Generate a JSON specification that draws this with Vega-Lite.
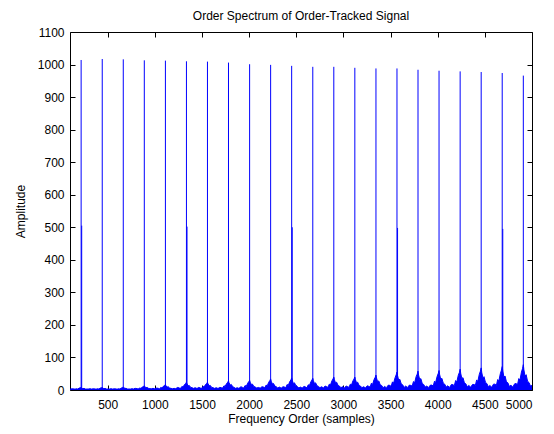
{
  "$schema": "https://vega.github.io/schema/vega-lite/v6.json",
  "width": 462,
  "height": 358,
  "autosize": {"type": "none"},
  "padding": {"left": 70, "top": 32, "right": 22, "bottom": 44},
  "background": "white",
  "title": {
    "text": "Order Spectrum of Order-Tracked Signal",
    "font": "Liberation Sans",
    "fontSize": 12,
    "fontWeight": "normal",
    "color": "#000000",
    "anchor": "middle",
    "offset": 3
  },
  "config": {
    "view": {"stroke": "#000000", "strokeWidth": 1},
    "axis": {
      "grid": false,
      "domain": false,
      "offset": -5,
      "tickColor": "#000000",
      "tickSize": 5,
      "labelFont": "Liberation Sans",
      "labelFontSize": 12,
      "labelColor": "#000000",
      "titleFont": "Liberation Sans",
      "titleFontSize": 12,
      "titleFontWeight": "normal",
      "titleColor": "#000000"
    }
  },
  "datasets": {
    "floor": [
      {"order": 100, "amp": 3},
      {"order": 108, "amp": 3}, {"order": 126, "amp": 4}, {"order": 143, "amp": 3}, {"order": 156, "amp": 3}, {"order": 170, "amp": 4}, {"order": 182, "amp": 3}, {"order": 198, "amp": 6}, {"order": 210, "amp": 7}, {"order": 218, "amp": 8}, {"order": 224, "amp": 6}, {"order": 236, "amp": 4}, {"order": 248, "amp": 5}, {"order": 263, "amp": 3}, {"order": 278, "amp": 3}, {"order": 294, "amp": 3}, {"order": 310, "amp": 4}, {"order": 328, "amp": 3},
      {"order": 332, "amp": 3}, {"order": 350, "amp": 4}, {"order": 367, "amp": 3}, {"order": 380, "amp": 3}, {"order": 394, "amp": 4}, {"order": 406, "amp": 3}, {"order": 422, "amp": 6}, {"order": 434, "amp": 7}, {"order": 442, "amp": 8}, {"order": 448, "amp": 6}, {"order": 460, "amp": 4}, {"order": 472, "amp": 5}, {"order": 487, "amp": 3}, {"order": 502, "amp": 3}, {"order": 518, "amp": 3}, {"order": 534, "amp": 4}, {"order": 552, "amp": 3},
      {"order": 555, "amp": 3}, {"order": 573, "amp": 4}, {"order": 590, "amp": 3}, {"order": 603, "amp": 3}, {"order": 617, "amp": 4}, {"order": 629, "amp": 3}, {"order": 645, "amp": 6}, {"order": 657, "amp": 8}, {"order": 665, "amp": 9}, {"order": 671, "amp": 7}, {"order": 683, "amp": 5}, {"order": 695, "amp": 5}, {"order": 710, "amp": 3}, {"order": 725, "amp": 3}, {"order": 741, "amp": 3}, {"order": 757, "amp": 4}, {"order": 775, "amp": 3},
      {"order": 778, "amp": 4}, {"order": 796, "amp": 5}, {"order": 813, "amp": 4}, {"order": 826, "amp": 4}, {"order": 840, "amp": 6}, {"order": 852, "amp": 5}, {"order": 868, "amp": 9}, {"order": 880, "amp": 11}, {"order": 888, "amp": 13}, {"order": 894, "amp": 10}, {"order": 906, "amp": 7}, {"order": 918, "amp": 8}, {"order": 933, "amp": 5}, {"order": 948, "amp": 4}, {"order": 964, "amp": 4}, {"order": 980, "amp": 5}, {"order": 998, "amp": 4},
      {"order": 1002, "amp": 4}, {"order": 1020, "amp": 6}, {"order": 1037, "amp": 5}, {"order": 1050, "amp": 4}, {"order": 1064, "amp": 8}, {"order": 1076, "amp": 6}, {"order": 1092, "amp": 12}, {"order": 1104, "amp": 14}, {"order": 1112, "amp": 17}, {"order": 1118, "amp": 13}, {"order": 1130, "amp": 9}, {"order": 1142, "amp": 10}, {"order": 1157, "amp": 6}, {"order": 1172, "amp": 5}, {"order": 1188, "amp": 4}, {"order": 1204, "amp": 5}, {"order": 1222, "amp": 4},
      {"order": 1225, "amp": 5}, {"order": 1243, "amp": 8}, {"order": 1260, "amp": 6}, {"order": 1273, "amp": 5}, {"order": 1287, "amp": 11}, {"order": 1299, "amp": 9}, {"order": 1315, "amp": 17}, {"order": 1327, "amp": 20}, {"order": 1335, "amp": 24}, {"order": 1341, "amp": 19}, {"order": 1353, "amp": 13}, {"order": 1365, "amp": 14}, {"order": 1380, "amp": 8}, {"order": 1395, "amp": 7}, {"order": 1411, "amp": 5}, {"order": 1427, "amp": 7}, {"order": 1445, "amp": 5},
      {"order": 1448, "amp": 5}, {"order": 1466, "amp": 8}, {"order": 1483, "amp": 6}, {"order": 1496, "amp": 5}, {"order": 1510, "amp": 11}, {"order": 1522, "amp": 9}, {"order": 1538, "amp": 17}, {"order": 1550, "amp": 20}, {"order": 1558, "amp": 24}, {"order": 1564, "amp": 19}, {"order": 1576, "amp": 13}, {"order": 1588, "amp": 14}, {"order": 1603, "amp": 8}, {"order": 1618, "amp": 7}, {"order": 1634, "amp": 5}, {"order": 1650, "amp": 7}, {"order": 1668, "amp": 5},
      {"order": 1671, "amp": 5}, {"order": 1689, "amp": 8}, {"order": 1706, "amp": 7}, {"order": 1719, "amp": 6}, {"order": 1733, "amp": 13}, {"order": 1745, "amp": 11}, {"order": 1761, "amp": 20}, {"order": 1773, "amp": 24}, {"order": 1781, "amp": 28}, {"order": 1787, "amp": 22}, {"order": 1799, "amp": 15}, {"order": 1811, "amp": 17}, {"order": 1826, "amp": 10}, {"order": 1841, "amp": 8}, {"order": 1857, "amp": 5}, {"order": 1873, "amp": 7}, {"order": 1891, "amp": 5},
      {"order": 1895, "amp": 6}, {"order": 1913, "amp": 10}, {"order": 1930, "amp": 8}, {"order": 1943, "amp": 6}, {"order": 1957, "amp": 14}, {"order": 1969, "amp": 11}, {"order": 1985, "amp": 21}, {"order": 1997, "amp": 26}, {"order": 2005, "amp": 30}, {"order": 2011, "amp": 24}, {"order": 2023, "amp": 17}, {"order": 2035, "amp": 18}, {"order": 2050, "amp": 11}, {"order": 2065, "amp": 9}, {"order": 2081, "amp": 6}, {"order": 2097, "amp": 8}, {"order": 2115, "amp": 6},
      {"order": 2118, "amp": 6}, {"order": 2136, "amp": 10}, {"order": 2153, "amp": 9}, {"order": 2166, "amp": 7}, {"order": 2180, "amp": 15}, {"order": 2192, "amp": 13}, {"order": 2208, "amp": 24}, {"order": 2220, "amp": 29}, {"order": 2228, "amp": 34}, {"order": 2234, "amp": 27}, {"order": 2246, "amp": 19}, {"order": 2258, "amp": 20}, {"order": 2273, "amp": 12}, {"order": 2288, "amp": 10}, {"order": 2304, "amp": 6}, {"order": 2320, "amp": 9}, {"order": 2338, "amp": 6},
      {"order": 2341, "amp": 6}, {"order": 2359, "amp": 10}, {"order": 2376, "amp": 9}, {"order": 2389, "amp": 7}, {"order": 2403, "amp": 17}, {"order": 2415, "amp": 14}, {"order": 2431, "amp": 26}, {"order": 2443, "amp": 31}, {"order": 2451, "amp": 37}, {"order": 2457, "amp": 30}, {"order": 2469, "amp": 20}, {"order": 2481, "amp": 22}, {"order": 2496, "amp": 13}, {"order": 2511, "amp": 11}, {"order": 2527, "amp": 6}, {"order": 2543, "amp": 9}, {"order": 2561, "amp": 6},
      {"order": 2565, "amp": 7}, {"order": 2583, "amp": 11}, {"order": 2600, "amp": 9}, {"order": 2613, "amp": 7}, {"order": 2627, "amp": 16}, {"order": 2639, "amp": 14}, {"order": 2655, "amp": 25}, {"order": 2667, "amp": 31}, {"order": 2675, "amp": 36}, {"order": 2681, "amp": 29}, {"order": 2693, "amp": 20}, {"order": 2705, "amp": 22}, {"order": 2720, "amp": 13}, {"order": 2735, "amp": 11}, {"order": 2751, "amp": 7}, {"order": 2767, "amp": 10}, {"order": 2785, "amp": 7},
      {"order": 2788, "amp": 7}, {"order": 2806, "amp": 12}, {"order": 2823, "amp": 10}, {"order": 2836, "amp": 8}, {"order": 2850, "amp": 18}, {"order": 2862, "amp": 15}, {"order": 2878, "amp": 28}, {"order": 2890, "amp": 34}, {"order": 2898, "amp": 40}, {"order": 2904, "amp": 32}, {"order": 2916, "amp": 22}, {"order": 2928, "amp": 24}, {"order": 2943, "amp": 14}, {"order": 2958, "amp": 12}, {"order": 2974, "amp": 7}, {"order": 2990, "amp": 10}, {"order": 3008, "amp": 7},
      {"order": 3011, "amp": 7}, {"order": 3029, "amp": 12}, {"order": 3046, "amp": 10}, {"order": 3059, "amp": 8}, {"order": 3073, "amp": 18}, {"order": 3085, "amp": 15}, {"order": 3101, "amp": 28}, {"order": 3113, "amp": 34}, {"order": 3121, "amp": 40}, {"order": 3127, "amp": 32}, {"order": 3139, "amp": 22}, {"order": 3151, "amp": 24}, {"order": 3166, "amp": 14}, {"order": 3181, "amp": 12}, {"order": 3197, "amp": 7}, {"order": 3213, "amp": 10}, {"order": 3231, "amp": 7},
      {"order": 3235, "amp": 7}, {"order": 3253, "amp": 13}, {"order": 3270, "amp": 11}, {"order": 3283, "amp": 9}, {"order": 3297, "amp": 21}, {"order": 3309, "amp": 17}, {"order": 3325, "amp": 32}, {"order": 3337, "amp": 39}, {"order": 3345, "amp": 46}, {"order": 3351, "amp": 37}, {"order": 3363, "amp": 25}, {"order": 3375, "amp": 28}, {"order": 3390, "amp": 16}, {"order": 3405, "amp": 14}, {"order": 3421, "amp": 7}, {"order": 3437, "amp": 11}, {"order": 3455, "amp": 7},
      {"order": 3458, "amp": 8}, {"order": 3476, "amp": 15}, {"order": 3493, "amp": 14}, {"order": 3506, "amp": 11}, {"order": 3520, "amp": 25}, {"order": 3532, "amp": 21}, {"order": 3548, "amp": 38}, {"order": 3560, "amp": 47}, {"order": 3568, "amp": 55}, {"order": 3574, "amp": 44}, {"order": 3586, "amp": 30}, {"order": 3598, "amp": 33}, {"order": 3613, "amp": 19}, {"order": 3628, "amp": 16}, {"order": 3644, "amp": 8}, {"order": 3660, "amp": 12}, {"order": 3678, "amp": 8},
      {"order": 3681, "amp": 8}, {"order": 3699, "amp": 15}, {"order": 3716, "amp": 14}, {"order": 3729, "amp": 12}, {"order": 3743, "amp": 26}, {"order": 3755, "amp": 22}, {"order": 3771, "amp": 41}, {"order": 3783, "amp": 49}, {"order": 3791, "amp": 58}, {"order": 3797, "amp": 46}, {"order": 3809, "amp": 32}, {"order": 3821, "amp": 35}, {"order": 3836, "amp": 20}, {"order": 3851, "amp": 17}, {"order": 3867, "amp": 9}, {"order": 3883, "amp": 12}, {"order": 3901, "amp": 8},
      {"order": 3904, "amp": 8}, {"order": 3922, "amp": 15}, {"order": 3939, "amp": 15}, {"order": 3952, "amp": 12}, {"order": 3966, "amp": 27}, {"order": 3978, "amp": 23}, {"order": 3994, "amp": 42}, {"order": 4006, "amp": 51}, {"order": 4014, "amp": 60}, {"order": 4020, "amp": 48}, {"order": 4032, "amp": 33}, {"order": 4044, "amp": 36}, {"order": 4059, "amp": 21}, {"order": 4074, "amp": 18}, {"order": 4090, "amp": 9}, {"order": 4106, "amp": 13}, {"order": 4124, "amp": 8},
      {"order": 4128, "amp": 9}, {"order": 4146, "amp": 17}, {"order": 4163, "amp": 16}, {"order": 4176, "amp": 13}, {"order": 4190, "amp": 29}, {"order": 4202, "amp": 24}, {"order": 4218, "amp": 45}, {"order": 4230, "amp": 54}, {"order": 4238, "amp": 64}, {"order": 4244, "amp": 51}, {"order": 4256, "amp": 35}, {"order": 4268, "amp": 38}, {"order": 4283, "amp": 22}, {"order": 4298, "amp": 19}, {"order": 4314, "amp": 10}, {"order": 4330, "amp": 14}, {"order": 4348, "amp": 9},
      {"order": 4351, "amp": 9}, {"order": 4369, "amp": 17}, {"order": 4386, "amp": 17}, {"order": 4399, "amp": 14}, {"order": 4413, "amp": 31}, {"order": 4425, "amp": 26}, {"order": 4441, "amp": 48}, {"order": 4453, "amp": 58}, {"order": 4461, "amp": 68}, {"order": 4467, "amp": 54}, {"order": 4479, "amp": 37}, {"order": 4491, "amp": 41}, {"order": 4506, "amp": 24}, {"order": 4521, "amp": 20}, {"order": 4537, "amp": 10}, {"order": 4553, "amp": 14}, {"order": 4571, "amp": 9},
      {"order": 4574, "amp": 9}, {"order": 4592, "amp": 18}, {"order": 4609, "amp": 18}, {"order": 4622, "amp": 14}, {"order": 4636, "amp": 32}, {"order": 4648, "amp": 27}, {"order": 4664, "amp": 50}, {"order": 4676, "amp": 61}, {"order": 4684, "amp": 72}, {"order": 4690, "amp": 58}, {"order": 4702, "amp": 40}, {"order": 4714, "amp": 43}, {"order": 4729, "amp": 25}, {"order": 4744, "amp": 22}, {"order": 4760, "amp": 11}, {"order": 4776, "amp": 15}, {"order": 4794, "amp": 9},
      {"order": 4798, "amp": 10}, {"order": 4816, "amp": 19}, {"order": 4833, "amp": 20}, {"order": 4846, "amp": 16}, {"order": 4860, "amp": 35}, {"order": 4872, "amp": 30}, {"order": 4888, "amp": 55}, {"order": 4900, "amp": 66}, {"order": 4908, "amp": 78}, {"order": 4914, "amp": 62}, {"order": 4926, "amp": 43}, {"order": 4938, "amp": 47}, {"order": 4953, "amp": 27}, {"order": 4968, "amp": 23}, {"order": 4984, "amp": 12}, {"order": 5000, "amp": 14}
    ],
    "peaks": [
      {"order": 218, "amp": 1014}, {"order": 442, "amp": 1017}, {"order": 665, "amp": 1016}, {"order": 888, "amp": 1013},
      {"order": 1112, "amp": 1012}, {"order": 1335, "amp": 1010}, {"order": 1558, "amp": 1009}, {"order": 1781, "amp": 1006},
      {"order": 2005, "amp": 1001}, {"order": 2228, "amp": 999}, {"order": 2451, "amp": 996}, {"order": 2675, "amp": 993},
      {"order": 2898, "amp": 993}, {"order": 3121, "amp": 990}, {"order": 3345, "amp": 988}, {"order": 3568, "amp": 988},
      {"order": 3791, "amp": 984}, {"order": 4014, "amp": 981}, {"order": 4238, "amp": 979}, {"order": 4461, "amp": 977},
      {"order": 4684, "amp": 974}, {"order": 4908, "amp": 966},
      {"order": 224, "amp": 505}, {"order": 1341, "amp": 502}, {"order": 2457, "amp": 500}, {"order": 3574, "amp": 498}, {"order": 4690, "amp": 495}
    ]
  },
  "layer": [
    {
      "data": {"name": "floor"},
      "mark": {"type": "area", "color": "#0000ff", "opacity": 1, "line": {"color": "#0000ff", "strokeWidth": 1}, "clip": true},
      "encoding": {
        "x": {
          "field": "order",
          "type": "quantitative",
          "scale": {"domain": [100, 5000], "nice": false, "zero": false},
          "axis": {
            "orient": "bottom",
            "values": [500, 1000, 1500, 2000, 2500, 3000, 3500, 4000, 4500, 5000],
            "format": "d",
            "labelPadding": 9,
            "title": "Frequency Order (samples)",
            "titlePadding": 3
          }
        },
        "y": {
          "field": "amp",
          "type": "quantitative",
          "scale": {"domain": [0, 1100], "nice": false},
          "axis": {
            "orient": "left",
            "values": [0, 100, 200, 300, 400, 500, 600, 700, 800, 900, 1000, 1100],
            "format": "d",
            "labelPadding": 6,
            "title": "Amplitude",
            "titlePadding": 10
          }
        }
      }
    },
    {
      "data": {"name": "peaks"},
      "mark": {"type": "rule", "color": "#0000ff", "strokeWidth": 1},
      "encoding": {
        "x": {
          "field": "order",
          "type": "quantitative",
          "axis": {
            "orient": "top",
            "values": [500, 1000, 1500, 2000, 2500, 3000, 3500, 4000, 4500, 5000],
            "labels": false,
            "title": null
          }
        },
        "y": {
          "field": "amp",
          "type": "quantitative",
          "axis": {
            "orient": "right",
            "values": [0, 100, 200, 300, 400, 500, 600, 700, 800, 900, 1000, 1100],
            "labels": false,
            "title": null
          }
        },
        "y2": {"datum": 0}
      }
    }
  ],
  "resolve": {"axis": {"x": "independent", "y": "independent"}}
}
